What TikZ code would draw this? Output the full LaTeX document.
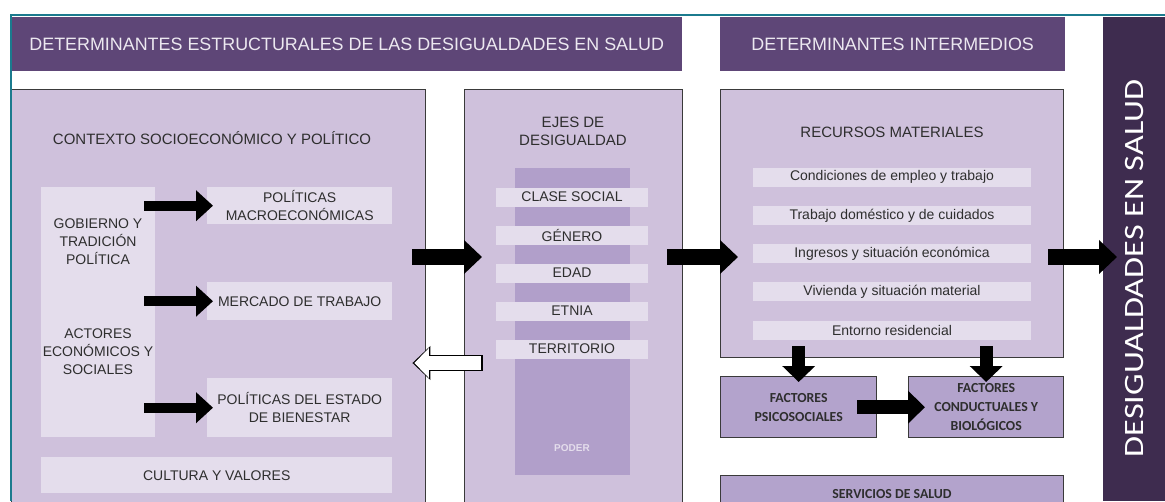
\documentclass[tikz,border=0pt]{standalone}
\usepackage{fontspec}
\setmainfont{Liberation Sans}
\newfontfamily\calib{Carlito}
\usetikzlibrary{arrows.meta}

\definecolor{hdrpurple}{HTML}{5E4677}
\definecolor{barpurple}{HTML}{3E2C4F}
\definecolor{panelfill}{HTML}{CFC1DC}
\definecolor{tagfill}{HTML}{E4DDEC}
\definecolor{poderfill}{HTML}{B19FCA}
\definecolor{factfill}{HTML}{B3A3CC}
\definecolor{edgegray}{HTML}{3A3A3A}
\definecolor{bodytext}{HTML}{2E2E2E}
\definecolor{hdrtext}{HTML}{ECE8F0}
\definecolor{tealline}{HTML}{1B7B8E}

\begin{document}
\begin{tikzpicture}[x=1pt,y=-1pt,
	hdr/.style={fill=hdrpurple, text=hdrtext, inner sep=0pt, anchor=north west, font=\fontsize{17.9}{20}\selectfont},
	panel/.style={fill=panelfill, draw=edgegray, line width=1.4pt, anchor=north west},
	fact/.style={fill=factfill, draw=edgegray, line width=1.4pt, anchor=north west, text=bodytext, align=center, font=\calib\bfseries\fontsize{13.8}{19}\selectfont},
	tag/.style={fill=tagfill, inner sep=0pt, text=bodytext, align=center, font=\fontsize{14}{18}\selectfont},
	txt/.style={text=bodytext, align=center, inner sep=0pt, font=\fontsize{14}{18}\selectfont},
	blk/.style={line width=10pt, -{Triangle[width=30pt,length=17pt]}},
	big/.style={line width=16pt, -{Triangle[width=33pt,length=18pt]}},
	down/.style={line width=13pt, -{Triangle[width=32pt,length=16pt]}}
]
	\clip (0,0) rectangle (1165,501);

	% headers
	\node[hdr, minimum width=671, minimum height=54] (estr) at (11,17) {DETERMINANTES ESTRUCTURALES DE LAS DESIGUALDADES EN SALUD};
	\node[hdr, minimum width=345, minimum height=54] (inter) at (720,17) {DETERMINANTES INTERMEDIOS};
	\node[fill=barpurple, anchor=north west, minimum width=62, minimum height=484] (bar) at (1103,17) {};
	\node[text=white, rotate=90, font=\calib\fontsize{28}{30}\selectfont] (barlbl) at ([yshift=-9pt]bar.center) {\scalebox{1.22}[1]{DESIGUALDADES EN SALUD}};

	% contexto
	\node[panel, minimum width=414, minimum height=425] (ctx) at (11,89) {};
	\node[txt, font=\fontsize{15}{18}\selectfont] (ctxtitle) at (212,138) {CONTEXTO SOCIOECON\'OMICO Y POL\'ITICO};
	\node[tag, anchor=north west, minimum width=114, minimum height=250] (gobact) at (41,187) {};
	\node[txt] (gob) at (98,242) {GOBIERNO Y\\TRADICI\'ON\\POL\'ITICA};
	\node[txt] (act) at (98,352) {ACTORES\\ECON\'OMICOS Y\\SOCIALES};
	\node[tag, anchor=north west, minimum width=185, minimum height=37] (macro) at (207,187) {POL\'ITICAS\\MACROECON\'OMICAS};
	\node[tag, anchor=north west, minimum width=185, minimum height=38] (mercado) at (207,282) {MERCADO DE TRABAJO};
	\node[tag, anchor=north west, minimum width=185, minimum height=59] (bienestar) at (207,378) {POL\'ITICAS DEL ESTADO\\DE BIENESTAR};
	\node[tag, anchor=north west, minimum width=351, minimum height=36] (cultura) at (41,457) {CULTURA Y VALORES};

	\draw[blk] ([xshift=-11pt]gobact.east |- macro.west) -- ([xshift=6pt]macro.west);
	\draw[blk] ([xshift=-11pt]gobact.east |- mercado.west) -- ([xshift=6pt]mercado.west);
	\draw[blk] ([xshift=-11pt]gobact.east |- bienestar.west) -- ([xshift=6pt]bienestar.west);

	% ejes de desigualdad
	\node[panel, minimum width=218, minimum height=425] (ejes) at (464,89) {};
	\node[txt, font=\fontsize{15}{18}\selectfont] (ejestitle) at (573,131) {EJES DE\\DESIGUALDAD};
	\node[fill=poderfill, anchor=north west, minimum width=115, minimum height=307] (poder) at (515,168) {};
	\node[text=tagfill, font=\bfseries\fontsize{10}{12}\selectfont] (poderlbl) at (572,448) {PODER};
	\foreach \lbl [count=\i] in {CLASE SOCIAL,G\'ENERO,EDAD,ETNIA,TERRITORIO}
		\node[tag, minimum width=152, minimum height=19] (eje\i) at (572,159+38*\i) {\lbl};

	% recursos materiales
	\node[panel, minimum width=343, minimum height=268] (recursos) at (720,89) {};
	\node[txt, font=\fontsize{15}{18}\selectfont] (rectitle) at (892,132) {RECURSOS MATERIALES};
	\foreach \lbl [count=\i] in {Condiciones de empleo y trabajo,Trabajo dom\'estico y de cuidados,Ingresos y situaci\'on econ\'omica,Vivienda y situaci\'on material,Entorno residencial}
		\node[tag, minimum width=278, minimum height=19] (rec\i) at (892,139+38.2*\i) {\lbl};

	\node[fact, minimum width=156, minimum height=61] (psico) at (720,376) {FACTORES\\PSICOSOCIALES};
	\node[fact, minimum width=155, minimum height=61] (conduct) at (908,376) {FACTORES\\CONDUCTUALES Y\\BIOL\'OGICOS};
	\node[fact, minimum width=343, minimum height=40, text depth=0pt] (servicios) at (720,475) {};
	\node[text=bodytext, font=\calib\bfseries\fontsize{13.8}{15}\selectfont] (servlbl) at (892,494) {SERVICIOS DE SALUD};

	\draw[down] ([yshift=12pt]recursos.south -| psico.north) -- ([yshift=-6pt]psico.north);
	\draw[down] ([yshift=12pt]recursos.south -| conduct.north) -- ([yshift=-6pt]conduct.north);
	\draw[blk, line width=14pt, -{Triangle[width=32pt,length=17pt]}] ([xshift=-20pt]psico.east) -- ([xshift=17pt]conduct.west);

	% main flow
	\coordinate (flow) at (0,257);
	\coordinate (back) at (0,363);
	\draw[big] ([xshift=-14pt]ctx.east |- flow) -- ([xshift=18pt]ejes.west |- flow);
	\draw[big] ([xshift=-16pt]ejes.east |- flow) -- ([xshift=18pt]recursos.west |- flow);
	\draw[big] ([xshift=-16pt]recursos.east |- flow) -- ([xshift=14pt]bar.west |- flow);
	\draw[big] ([xshift=18.7pt]ejes.west |- back) -- ([xshift=-14pt]ctx.east |- back);
	\draw[white, line width=13.4pt, -{Triangle[width=29pt,length=14.5pt]}] ([xshift=17.3pt]ejes.west |- back) -- ([xshift=-12pt]ctx.east |- back);

	% frame lines
	\draw[tealline, line width=2pt] (10,15) -- (1165,15);
	\draw[tealline, line width=2pt] (11,15) -- (11,501);
\end{tikzpicture}
\end{document}
